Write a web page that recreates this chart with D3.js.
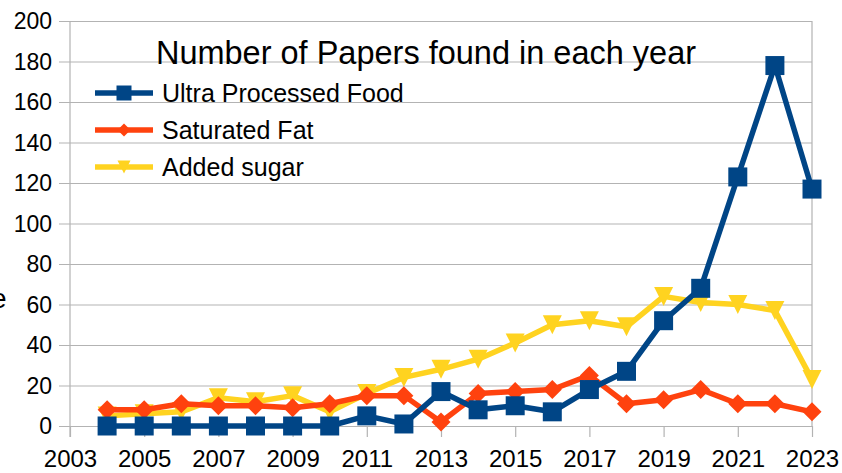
<!DOCTYPE html>
<html>
<head>
<meta charset="utf-8">
<script src="https://cdn.jsdelivr.net/npm/d3@7"></script>
<style>
  html, body { margin: 0; padding: 0; background: #fff; }
  svg { display: block; }
  text { font-family: "Liberation Sans", Arial, sans-serif; fill: #000; }
</style>
</head>
<body>
<svg id="chart" width="842" height="473"></svg>
<script>
// Publication counts per year
const years = [2004, 2005, 2006, 2007, 2008, 2009, 2010, 2011, 2012, 2013,
               2014, 2015, 2016, 2017, 2018, 2019, 2020, 2021, 2022, 2023];
const ultraProcessed = [0, 0, 0, 0, 0, 0, 0, 5, 1, 17, 8, 10, 7, 18, 27, 52, 68, 123, 178, 117];
const saturatedFat   = [8, 8, 11, 10, 10, 9, 11, 15, 15, 2, 16, 17, 18, 25, 11, 13, 18, 11, 11, 7];
const addedSugar     = [5, 6, 7, 14, 12, 15, 7, 16, 24, 28, 33, 41, 50, 52, 49, 64, 61, 60, 57, 23];

const seriesNames = ["Ultra Processed Food", "Saturated Fat", "Added sugar"];
const xTicks = [2003, 2005, 2007, 2009, 2011, 2013, 2015, 2017, 2019, 2021, 2023];
const yTicks = [0, 20, 40, 60, 80, 100, 120, 140, 160, 180, 200];
const titleText = "Number of Papers found in each year";

const series = [
  { name: seriesNames[0], values: ultraProcessed, color: "#004586", symbol: "square" },
  { name: seriesNames[1], values: saturatedFat,   color: "#ff420e", symbol: "diamond" },
  { name: seriesNames[2], values: addedSugar,     color: "#ffd320", symbol: "triangleDown" }
];

const svg = d3.select("#chart");
const plotLeft = 70, plotRight = 812, plotTop = 21, plotBottom = 426;
const x = d3.scaleLinear().domain([2003, 2023]).range([plotLeft, plotRight]);
const y = d3.scaleLinear().domain([0, 200]).range([plotBottom, plotTop]);
const gridColor = "#b3b3b3";

// Horizontal grid lines, extended left as outer tick stubs
const yAxis = d3.axisLeft(y).tickValues(yTicks).tickSize(plotRight - plotLeft + 11).tickFormat(d3.format("d"));
const gy = svg.append("g").attr("transform", `translate(${plotRight},0)`).call(yAxis);
gy.select(".domain").remove();
gy.selectAll(".tick line").attr("stroke", gridColor).attr("stroke-width", 1.2);
gy.selectAll(".tick text").remove();

// Y tick labels
svg.append("g").selectAll("text").data(yTicks).join("text")
  .attr("x", 52).attr("y", d => y(d) + 8)
  .attr("text-anchor", "end").attr("font-size", 23)
  .text(d => d);

// Left axis line and right frame line
svg.append("line").attr("x1", plotLeft).attr("x2", plotLeft).attr("y1", plotTop).attr("y2", plotBottom + 11)
  .attr("stroke", gridColor).attr("stroke-width", 1.2);
svg.append("line").attr("x1", plotRight).attr("x2", plotRight).attr("y1", plotTop).attr("y2", plotBottom)
  .attr("stroke", gridColor).attr("stroke-width", 1.2);

// X axis ticks and labels
const xAxis = d3.axisBottom(x).tickValues(xTicks).tickSize(11).tickFormat(d3.format("d"));
const gx = svg.append("g").attr("transform", `translate(0,${plotBottom})`).call(xAxis);
gx.select(".domain").remove();
gx.selectAll(".tick line").attr("stroke", gridColor).attr("stroke-width", 1.2);
gx.selectAll(".tick text").attr("font-size", 24).attr("font-family", "Liberation Sans, Arial, sans-serif")
  .attr("fill", "#000").attr("dy", 0).attr("y", 41);

// Marker shapes, centred on the data point
function markerPath(symbol, s) {
  const h = s / 2;
  if (symbol === "square") return `M${-h},${-h}H${h}V${h}H${-h}Z`;
  if (symbol === "diamond") return `M0,${-h}L${h},0L0,${h}L${-h},0Z`;
  return `M${-h},${-h}H${h}L0,${h}Z`;
}

// Draw series bottom-up so the first series sits on top
const line = d3.line().x((d, i) => x(years[i])).y(d => y(d));
series.slice().reverse().forEach(s => {
  const g = svg.append("g");
  g.append("path").datum(s.values).attr("d", line)
    .attr("fill", "none").attr("stroke", s.color).attr("stroke-width", 5.5)
    .attr("stroke-linejoin", "round");
  g.selectAll("path.m").data(s.values).join("path").attr("class", "m")
    .attr("transform", (d, i) => `translate(${x(years[i])},${y(d)})`)
    .attr("d", markerPath(s.symbol, 19))
    .attr("fill", s.color);
});

// Title
svg.append("text").attr("x", 426).attr("y", 64).attr("text-anchor", "middle")
  .attr("font-size", 32.5).text(titleText);

// Legend
const legendRows = [93, 130, 167];
series.forEach((s, i) => {
  const cy = legendRows[i];
  svg.append("line").attr("x1", 95).attr("x2", 153).attr("y1", cy).attr("y2", cy)
    .attr("stroke", s.color).attr("stroke-width", 5.5);
  svg.append("path").attr("transform", `translate(124,${cy})`)
    .attr("d", markerPath(s.symbol, s.symbol === "square" ? 15 : 13)).attr("fill", s.color);
  svg.append("text").attr("x", 162).attr("y", cy + 9).attr("font-size", 25).text(s.name);
});

// Partially visible axis caption at the left edge
svg.append("text").attr("x", -9).attr("y", 308).attr("font-size", 28).text("e");
</script>
</body>
</html>
